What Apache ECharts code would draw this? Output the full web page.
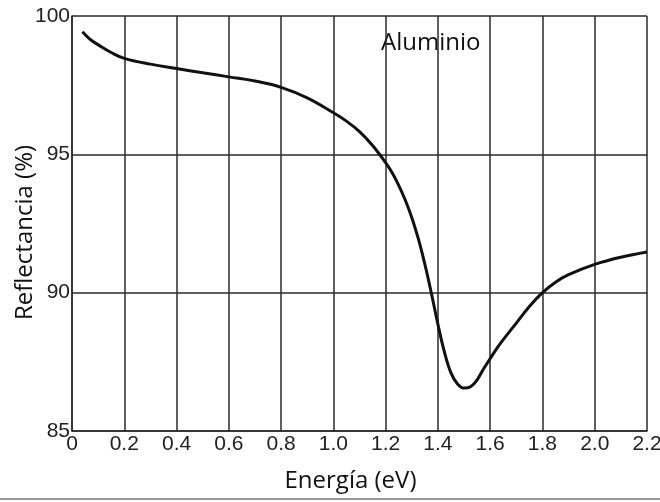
<!DOCTYPE html>
<html>
<head>
<meta charset="utf-8">
<title>Aluminio - Reflectancia</title>
<script src="https://cdn.jsdelivr.net/npm/echarts@6/dist/echarts.min.js"></script>
<style>
  html, body { margin: 0; padding: 0; background: #fff; }
  #chart { width: 660px; height: 502px; }
</style>
</head>
<body>
<div id="chart"></div>
<script>
// energía (eV) y reflectancia (%)
const energia = [0.04, 0.07, 0.105, 0.15, 0.2, 0.3, 0.4, 0.5, 0.6, 0.7, 0.8, 0.9, 1.0, 1.05, 1.1, 1.15, 1.2, 1.225, 1.25, 1.275, 1.3, 1.325, 1.35, 1.375, 1.4, 1.425, 1.45, 1.475, 1.5, 1.525, 1.55, 1.575, 1.6, 1.625, 1.65, 1.7, 1.75, 1.8, 1.85, 1.9, 2.0, 2.1, 2.2]
const reflectancia = [99.43, 99.15, 98.93, 98.68, 98.47, 98.26, 98.1, 97.95, 97.8, 97.65, 97.42, 97.04, 96.5, 96.2, 95.82, 95.32, 94.7, 94.33, 93.88, 93.35, 92.72, 91.95, 91.03, 89.98, 88.86, 87.85, 87.1, 86.7, 86.55, 86.6, 86.85, 87.25, 87.62, 87.98, 88.3, 88.9, 89.5, 90.0, 90.38, 90.65, 91.02, 91.28, 91.47]

const xTicks = ['0', '0.2', '0.4', '0.6', '0.8', '1.0', '1.2', '1.4', '1.6', '1.8', '2.0', '2.2']
const yTicks = ['85', '90', '95', '100']

const tickFont = "'Liberation Sans Narrow', 'Liberation Sans', Arial, sans-serif"
const titleFont = "'Open Sans', 'Noto Sans', sans-serif"
const gridColor = '#2a2a2a'

const chart = echarts.init(document.getElementById('chart'))

chart.setOption({
  animation: false,
  backgroundColor: '#fff',
  grid: { left: 72, right: 13, top: 16, bottom: 71, outerBoundsMode: 'none' },
  xAxis: {
    type: 'value',
    min: 0,
    max: 2.2,
    interval: 0.2,
    name: 'Energía (eV)',
    nameLocation: 'middle',
    nameGap: 38,
    nameMoveOverlap: false,
    nameTextStyle: { fontFamily: titleFont, fontSize: 24, color: '#111', padding: [0, 18, 0, 0] },
    axisLine: { show: true, lineStyle: { color: gridColor, width: 1.5 } },
    axisTick: { show: false },
    axisLabel: {
      margin: 3,
      fontFamily: tickFont,
      fontSize: 21,
      color: '#222',
      formatter: (v) => xTicks[Math.round(v / 0.2)] || ''
    },
    splitLine: { show: true, lineStyle: { color: gridColor, width: 1.5 } }
  },
  yAxis: {
    type: 'value',
    min: 85,
    max: 100,
    interval: 5,
    name: 'Reflectancia (%)',
    nameLocation: 'middle',
    nameGap: 35,
    nameMoveOverlap: false,
    nameRotate: 90,
    nameTextStyle: { fontFamily: titleFont, fontSize: 24, color: '#111', padding: [0, 18, 0, 0] },
    axisLine: { show: true, lineStyle: { color: gridColor, width: 1.5 } },
    axisTick: { show: false },
    axisLabel: {
      margin: 2,
      fontFamily: tickFont,
      fontSize: 21,
      color: '#222',
      formatter: (v) => yTicks[Math.round((v - 85) / 5)] || ''
    },
    splitLine: { show: true, lineStyle: { color: gridColor, width: 1.5 } }
  },
  series: [
    {
      type: 'line',
      data: energia.map((e, i) => [e, reflectancia[i]]),
      smooth: 0.4,
      symbol: 'none',
      lineStyle: { color: '#111', width: 3 }
    }
  ],
  graphic: [
    {
      type: 'text',
      left: 381,
      top: 31,
      style: { text: 'Aluminio', fontFamily: titleFont, fontSize: 24, fill: '#111' }
    },
    {
      type: 'line',
      shape: { x1: 0, y1: 499, x2: 660, y2: 499 },
      style: { stroke: '#999', lineWidth: 2 }
    }
  ]
})
</script>
</body>
</html>
